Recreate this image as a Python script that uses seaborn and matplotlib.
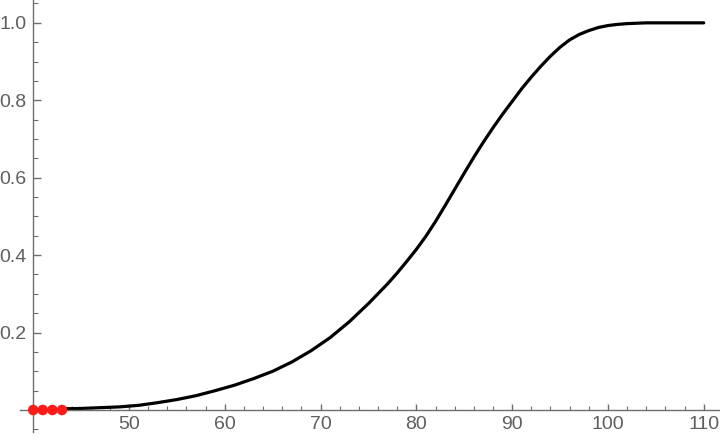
import numpy as np
import pandas as pd
import matplotlib
matplotlib.use("Agg")
import matplotlib.pyplot as plt
from matplotlib.ticker import FixedLocator
import seaborn as sns

# curve values
curve_x = [43, 45, 47, 49, 51, 53, 55, 57, 59, 61, 63, 65, 67, 69, 71, 73,
           75, 77, 78, 79, 80, 81, 82, 83, 84, 85, 86, 87, 88, 89, 90, 91,
           92, 93, 94, 95, 96, 97, 98, 99, 100, 101, 102, 103, 104, 110]
curve_y = [0.003, 0.004, 0.006, 0.008, 0.012, 0.019, 0.027, 0.037, 0.050,
           0.064, 0.081, 0.100, 0.124, 0.153, 0.187, 0.228, 0.275, 0.326,
           0.354, 0.384, 0.415, 0.449, 0.487, 0.528, 0.570, 0.612, 0.653,
           0.692, 0.729, 0.764, 0.797, 0.830, 0.860, 0.888, 0.914, 0.937,
           0.956, 0.970, 0.980, 0.988, 0.993, 0.996, 0.998, 0.999, 1.0, 1.0]

# red points on the axis
dots_x = [40, 41, 42, 43]
dots_y = [0, 0, 0, 0]

x_ticks = [50, 60, 70, 80, 90, 100, 110]
x_minor = [42, 44, 46, 48, 52, 54, 56, 58, 62, 64, 66, 68, 72, 74, 76, 78,
           82, 84, 86, 88, 92, 94, 96, 98, 102, 104, 106, 108]
y_ticks = [0.2, 0.4, 0.6, 0.8, 1.0]
y_labels = ["0.2", "0.4", "0.6", "0.8", "1.0"]
y_minor = [-0.05, 0.05, 0.1, 0.15, 0.25, 0.3, 0.35, 0.45, 0.5, 0.55, 0.65,
           0.7, 0.75, 0.85, 0.9, 0.95, 1.05]

curve = pd.DataFrame({"x": curve_x, "y": curve_y})
dots = pd.DataFrame({"x": dots_x, "y": dots_y})

sns.set_style("white")
plt.rcParams["font.family"] = ["Liberation Sans", "DejaVu Sans"]

axis_col = "#6e6e6e"
label_col = "#5f5f5f"

fig = plt.figure(figsize=(7.2, 4.4), dpi=100)
ax = fig.add_axes([0, 0, 1, 1])

sns.lineplot(data=curve, x="x", y="y", ax=ax, color="black", linewidth=2.3,
             estimator=None, sort=False)
sns.scatterplot(data=dots, x="x", y="y", ax=ax, color="#ff1a1a", s=58,
                edgecolor="none", zorder=5, clip_on=False)

ax.set_xlim(36.53, 111.7)
ax.set_ylim(-0.0775, 1.059)
ax.set_xlabel("")
ax.set_ylabel("")

# axes cross at (40, 0)
ax.spines["left"].set_position(("data", 40))
ax.spines["bottom"].set_position(("data", 0))
ax.spines["top"].set_visible(False)
ax.spines["right"].set_visible(False)
ax.spines["left"].set_bounds(-0.056, 1.059)
ax.spines["bottom"].set_bounds(38.6, 111.7)
for s in ("left", "bottom"):
    ax.spines[s].set_color(axis_col)
    ax.spines[s].set_linewidth(1.0)

ax.xaxis.set_major_locator(FixedLocator(x_ticks))
ax.xaxis.set_minor_locator(FixedLocator(x_minor))
ax.yaxis.set_major_locator(FixedLocator(y_ticks))
ax.yaxis.set_minor_locator(FixedLocator(y_minor))
ax.set_yticklabels(y_labels)

ax.tick_params(which="both", bottom=True, left=True, top=False, right=False)
ax.tick_params(axis="x", which="major", direction="in", length=4.5, width=1.0,
               color=axis_col, labelcolor=label_col, labelsize=14, pad=4)
ax.tick_params(axis="x", which="minor", direction="in", length=3, width=0.8,
               color=axis_col)
ax.tick_params(axis="y", which="major", direction="in", length=6, width=1.0,
               color=axis_col, labelcolor=label_col, labelsize=14, pad=5)
ax.tick_params(axis="y", which="minor", direction="in", length=3.6, width=0.8,
               color=axis_col)

plt.savefig("out.png", dpi=100)
